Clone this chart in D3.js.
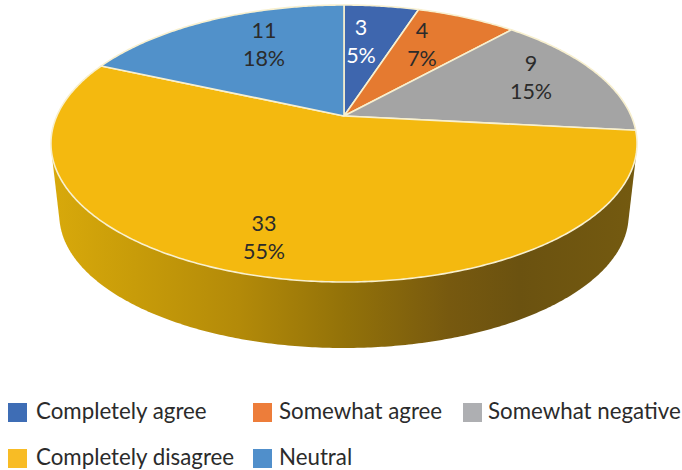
<!DOCTYPE html>
<html>
<head>
<meta charset="utf-8">
<script src="https://cdn.jsdelivr.net/npm/d3@7/dist/d3.min.js"></script>
<style>
  html, body { margin: 0; padding: 0; background: #fff; }
  svg { display: block; }
  text { font-family: Lato, "Open Sans", sans-serif; }
</style>
</head>
<body>
<svg id="chart" width="682" height="470"></svg>
<script>
// Survey responses, in drawing order clockwise from twelve o'clock
const categories = ["Completely agree", "Somewhat agree", "Somewhat negative", "Completely disagree", "Neutral"];
const counts = [3, 4, 9, 33, 11];
const percentLabels = ["5%", "7%", "15%", "55%", "18%"];

const sliceColors = ["#3e66ae", "#e57a30", "#a4a4a4", "#f4b90f", "#5191ca"];
const legendColors = ["#3e6db5", "#ed7d3a", "#aeafb2", "#f8bc25", "#508fcb"];
const labelColors = ["#ffffff", "#2b2b2b", "#2b2b2b", "#2b2b2b", "#2b2b2b"];

// Centre of each slice's two-line label
const labelCentres = [[361, 42], [422, 45], [531, 78], [264, 238], [264, 45]];
// Legend rows: [swatch x, swatch y]
const legendSlots = [[8, 403], [253, 403], [463, 403], [8, 449], [253, 449]];
const legendTextX = [36, 279, 488, 36, 279];

const svg = d3.select("#chart");
const defs = svg.append("defs");

// The tilted disc is a perspective view of a circle: nearer points spread further apart
const PERSPECTIVE = -0.1986;
const topRim = { cx: 344, cy: 116, rx: 287.2, ry: 110 };
const bottomRim = { cx: 344, cy: 188.6, rx: 279, ry: 90.3 };

function project(rim, angle) {
  const u = Math.sin(angle), v = -Math.cos(angle);
  const w = 1 + PERSPECTIVE * v;
  return [rim.cx + rim.rx * u / w, (rim.cy + rim.ry * v) / w];
}

function arcPoints(rim, a0, a1) {
  const n = Math.max(2, Math.ceil((a1 - a0) / 0.01));
  return d3.range(n + 1).map(i => project(rim, a0 + (a1 - a0) * i / n));
}

const slices = d3.pie().sort(null).value(d => d)(counts);
const line = d3.line();

// Shaded side wall, lit from the left
const wallGradient = defs.append("linearGradient")
  .attr("id", "wallShade")
  .attr("gradientUnits", "userSpaceOnUse")
  .attr("x1", 52).attr("x2", 636).attr("y1", 0).attr("y2", 0);
[[0, "#d8a90b"], [0.14, "#c89c09"], [0.32, "#b38a09"], [0.5, "#937209"], [0.68, "#77590f"], [0.8, "#6b5210"], [1, "#745a10"]]
  .forEach(([o, c]) => wallGradient.append("stop").attr("offset", o).attr("stop-color", c));

// Only slices that reach the front half of the disc show a wall
const FRONT_START = Math.PI / 2, FRONT_END = Math.PI * 3 / 2;
slices
  .filter(s => s.endAngle > FRONT_START && s.startAngle < FRONT_END)
  .forEach(s => {
    const hull = d3.polygonHull([
      ...arcPoints(topRim, s.startAngle, s.endAngle),
      ...arcPoints(bottomRim, s.startAngle, s.endAngle)
    ]);
    svg.append("path")
      .attr("d", line(hull) + "Z")
      .attr("fill", "url(#wallShade)");
  });

// Top face
svg.append("g").selectAll("path")
  .data(slices)
  .join("path")
  .attr("d", s => line([[topRim.cx, topRim.cy], ...arcPoints(topRim, s.startAngle, s.endAngle)]) + "Z")
  .attr("fill", (s, i) => sliceColors[i])
  .attr("stroke", "#f8f0cf")
  .attr("stroke-width", 1.6)
  .attr("stroke-linejoin", "round");

// Value and share labels
const labels = svg.append("g").selectAll("text")
  .data(slices)
  .join("text")
  .attr("text-anchor", "middle")
  .attr("font-size", 21.5)
  .attr("fill", (s, i) => labelColors[i]);
labels.append("tspan")
  .attr("x", (s, i) => labelCentres[i][0])
  .attr("y", (s, i) => labelCentres[i][1] - 7)
  .text(s => s.value);
labels.append("tspan")
  .attr("x", (s, i) => labelCentres[i][0])
  .attr("y", (s, i) => labelCentres[i][1] + 21)
  .text((s, i) => percentLabels[i]);

// Legend
const legend = svg.append("g").selectAll("g")
  .data(categories)
  .join("g");
legend.append("rect")
  .attr("x", (d, i) => legendSlots[i][0])
  .attr("y", (d, i) => legendSlots[i][1])
  .attr("width", 19).attr("height", 19)
  .attr("fill", (d, i) => legendColors[i]);
legend.append("text")
  .attr("x", (d, i) => legendTextX[i])
  .attr("y", (d, i) => legendSlots[i][1] + 16)
  .attr("font-size", 22.3)
  .attr("fill", "#2b2b2b")
  .text(d => d);
</script>
</body>
</html>
